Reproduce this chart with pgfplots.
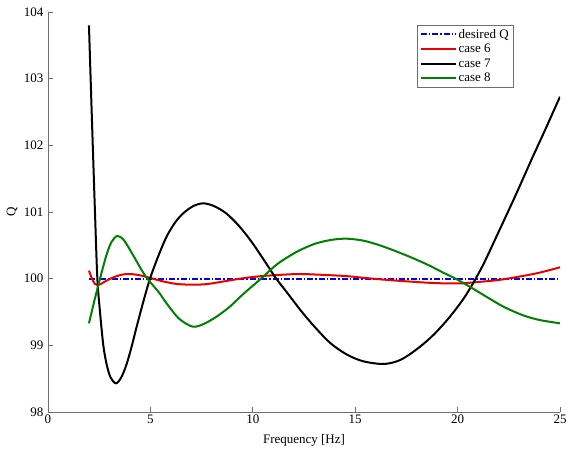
\documentclass[border=0pt]{standalone}
\usepackage{fontspec}
\setmainfont{Liberation Serif}
\usepackage{pgfplots}
\pgfplotsset{compat=1.18}
\definecolor{axgray}{RGB}{110,110,110}
\definecolor{qblue}{RGB}{0,0,230}
\definecolor{qred}{RGB}{235,0,0}
\definecolor{qgreen}{RGB}{0,128,0}
\begin{document}
\begin{tikzpicture}
\begin{axis}[
  scale only axis,
  width=512pt, height=400pt,
  xmin=0, xmax=25, ymin=98, ymax=104,
  xtick={0,5,10,15,20,25},
  ytick={98,99,100,101,102,103,104},
  axis x line*=bottom, axis y line*=left,
  axis line style={axgray, line width=0.8pt},
  tick style={axgray, line width=0.8pt},
  tick align=inside,
  major tick length=5pt,
  font=\fontsize{13}{15}\selectfont,
  /pgf/number format/assume math mode=true,
  /pgf/number format/1000 sep={},
  yticklabel style={xshift=-1pt},
  xticklabel style={yshift=1pt},
  xlabel={Frequency [Hz]},
  ylabel={Q},
  xlabel style={at={(axis description cs:0.5,-0.07)}, anchor=center},
  ylabel style={at={(axis description cs:-0.0703,0.5)}, anchor=center},
  legend style={at={(0.908,0.9675)}, anchor=north east, draw=axgray,
    font=\fontsize{13}{15}\selectfont, row sep=0.5pt, inner sep=2pt},
  legend cell align=left,
  legend image code/.code={\draw[#1] (0pt,0pt) -- (35pt,0pt);},
]
\addplot[qblue, line width=2pt, dash pattern=on 6pt off 2pt on 1.5pt off 2pt] coordinates {(2,100) (25,100)};
\addlegendentry{desired Q}
\addplot[qred, line width=2pt, smooth] coordinates {
(2.00,100.12) (2.15,100.00) (2.30,99.92) (2.50,99.91) (2.80,99.96) (3.20,100.02)
(3.60,100.06) (4.00,100.07) (4.50,100.05) (5.00,100.01) (5.60,99.96) (6.30,99.92)
(7.10,99.91) (7.80,99.92) (8.80,99.97) (9.60,100.01) (10.50,100.04) (11.50,100.06)
(12.30,100.07) (13.20,100.06) (14.50,100.04) (15.50,100.01) (16.60,99.98) (17.50,99.96)
(18.50,99.94) (19.30,99.93) (20.20,99.93) (21.00,99.95) (22.00,99.98) (23.00,100.03)
(24.00,100.09) (25.00,100.17)};
\addlegendentry{case 6}
\addplot[black, line width=2pt, smooth] coordinates {
(2.00,103.80) (2.13,102.53) (2.29,101.03) (2.41,100.00) (2.54,99.50) (2.70,99.00)
(2.86,98.72) (3.05,98.52) (3.32,98.43) (3.58,98.52) (3.84,98.72) (4.10,99.00)
(4.33,99.28) (4.65,99.65) (4.98,100.00) (5.40,100.35) (5.79,100.63) (6.20,100.84)
(6.60,100.98) (7.10,101.09) (7.58,101.13) (8.10,101.09) (8.70,100.98) (9.30,100.80)
(9.90,100.57) (10.50,100.30) (11.10,100.02) (11.70,99.78) (12.40,99.50) (13.10,99.25)
(13.80,99.03) (14.60,98.86) (15.40,98.76) (16.40,98.72) (17.20,98.78) (18.00,98.94)
(18.80,99.15) (19.60,99.42) (20.40,99.75) (21.20,100.18) (22.00,100.70) (22.80,101.23)
(23.60,101.78) (24.30,102.25) (25.00,102.73)};
\addlegendentry{case 7}
\addplot[qgreen, line width=2pt, smooth] coordinates {
(2.00,99.33) (2.25,99.65) (2.54,100.00) (2.85,100.35) (3.10,100.55) (3.38,100.64)
(3.70,100.58) (4.16,100.35) (4.55,100.14) (4.85,100.00) (5.40,99.80) (5.79,99.63)
(6.40,99.40) (7.06,99.28) (7.60,99.32) (8.23,99.43) (8.88,99.58) (9.50,99.76)
(10.40,100.00) (11.20,100.22) (12.13,100.40) (13.00,100.52) (13.80,100.58) (14.57,100.60)
(15.40,100.57) (16.20,100.50) (17.00,100.41) (17.80,100.31) (18.60,100.20) (19.30,100.09)
(19.90,100.00) (20.70,99.86) (21.56,99.70) (22.30,99.57) (23.20,99.45) (24.00,99.38)
(25.00,99.33)};
\addlegendentry{case 8}
\end{axis}
\pgfresetboundingbox
\path[use as bounding box] ([shift={(-48pt,-43pt)}]current axis.south west) rectangle ([shift={(6pt,12pt)}]current axis.north east);
\end{tikzpicture}
\end{document}
